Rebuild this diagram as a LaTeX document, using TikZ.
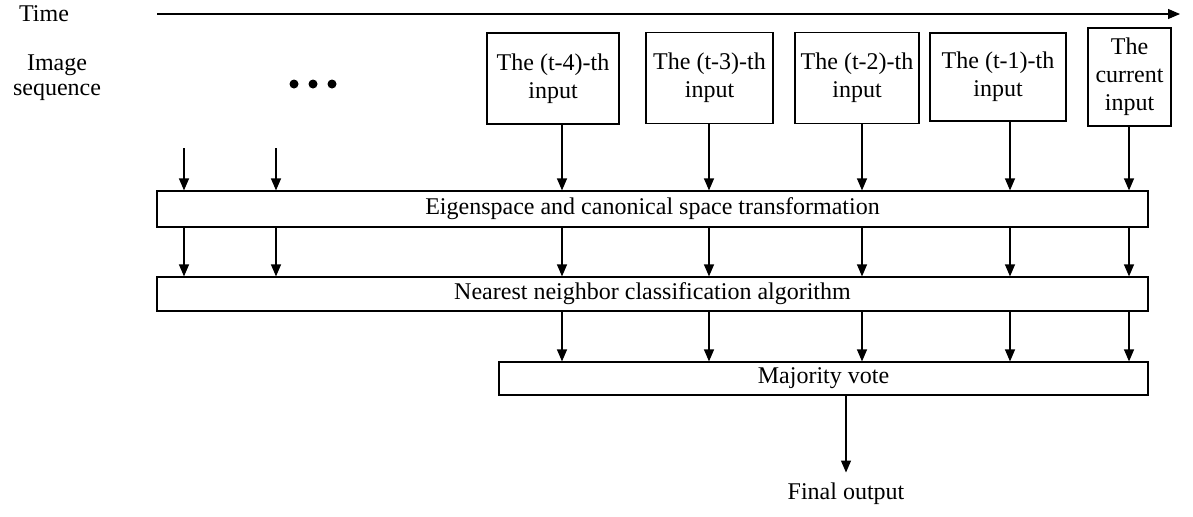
\documentclass[tikz,border=0pt]{standalone}
\usepackage{fontspec}
\setmainfont{Liberation Serif}
\usetikzlibrary{arrows.meta,positioning}

\begin{document}
\begin{tikzpicture}[x=0.5pt,y=-0.5pt,
  font=\fontsize{12}{12.5}\selectfont,
  line width=0.6pt,
  >={Triangle[length=6pt,width=5pt]},
  inbox/.style={draw,inner sep=0pt,align=center,minimum height=45.5pt,
    font=\fontsize{12}{14}\selectfont},
  stagebox/.style={draw,inner sep=0pt,minimum width=495.5pt},
  dotstyle/.style={circle,fill,inner sep=0pt,minimum size=4.5pt}]
\useasboundingbox (0,0) rectangle (1193,516);
\node (time) at (44,14) {Time};
\node[align=center] (seq) at (57,78) {Image\\sequence};
\coordinate (t0) at (157,14);
\coordinate (t1) at (1180,14);
\draw[->] (t0) -- (t1);
\node[dotstyle] (d1) at (294,84) {};
\node[dotstyle] (d2) at (313,84) {};
\node[dotstyle] (d3) at (332,84) {};
\node[inbox,minimum width=66pt] (in1) at (553,78.5) {The (t-4)-th\\input};
\node[inbox,minimum width=63.5pt] (in2) at (709.5,78) {The (t-3)-th\\input};
\node[inbox,minimum width=62pt] (in3) at (857,78) {The (t-2)-th\\input};
\node[inbox,minimum width=68pt,minimum height=44pt] (in4) at (998,77) {The (t-1)-th\\input};
\node[inbox,minimum width=41.5pt,minimum height=49pt] (in5) at (1129.5,77) {The\\current\\input};
\node[stagebox,minimum height=18pt] (eig) at (652.5,209) {Eigenspace and canonical space transformation};
\node[stagebox,minimum height=17pt] (nn) at (652.5,294) {Nearest neighbor classification algorithm};
\node[draw,inner sep=0pt,minimum width=324.5pt,minimum height=16.5pt] (mv) at (823.5,378.5) {Majority vote};
\node[inner sep=5pt] (fo) at (846,494) {Final output};
\foreach \n/\x in {1/184,2/276,3/562,4/709,5/862,6/1010,7/1129}
  \coordinate (c\n) at (\x,148);
\draw[->] (c1) -- (eig.north -| c1);
\draw[->] (c2) -- (eig.north -| c2);
\foreach \i/\n in {1/3,2/4,3/5,4/6,5/7}
  \draw[->] (in\i.south -| c\n) -- (eig.north -| c\n);
\foreach \n in {1,...,7}
  \draw[->] (eig.south -| c\n) -- (nn.north -| c\n);
\foreach \n in {3,...,7}
  \draw[->] (nn.south -| c\n) -- (mv.north -| c\n);
\draw[->] (mv.south -| fo) -- (fo.north);
\end{tikzpicture}
\end{document}
